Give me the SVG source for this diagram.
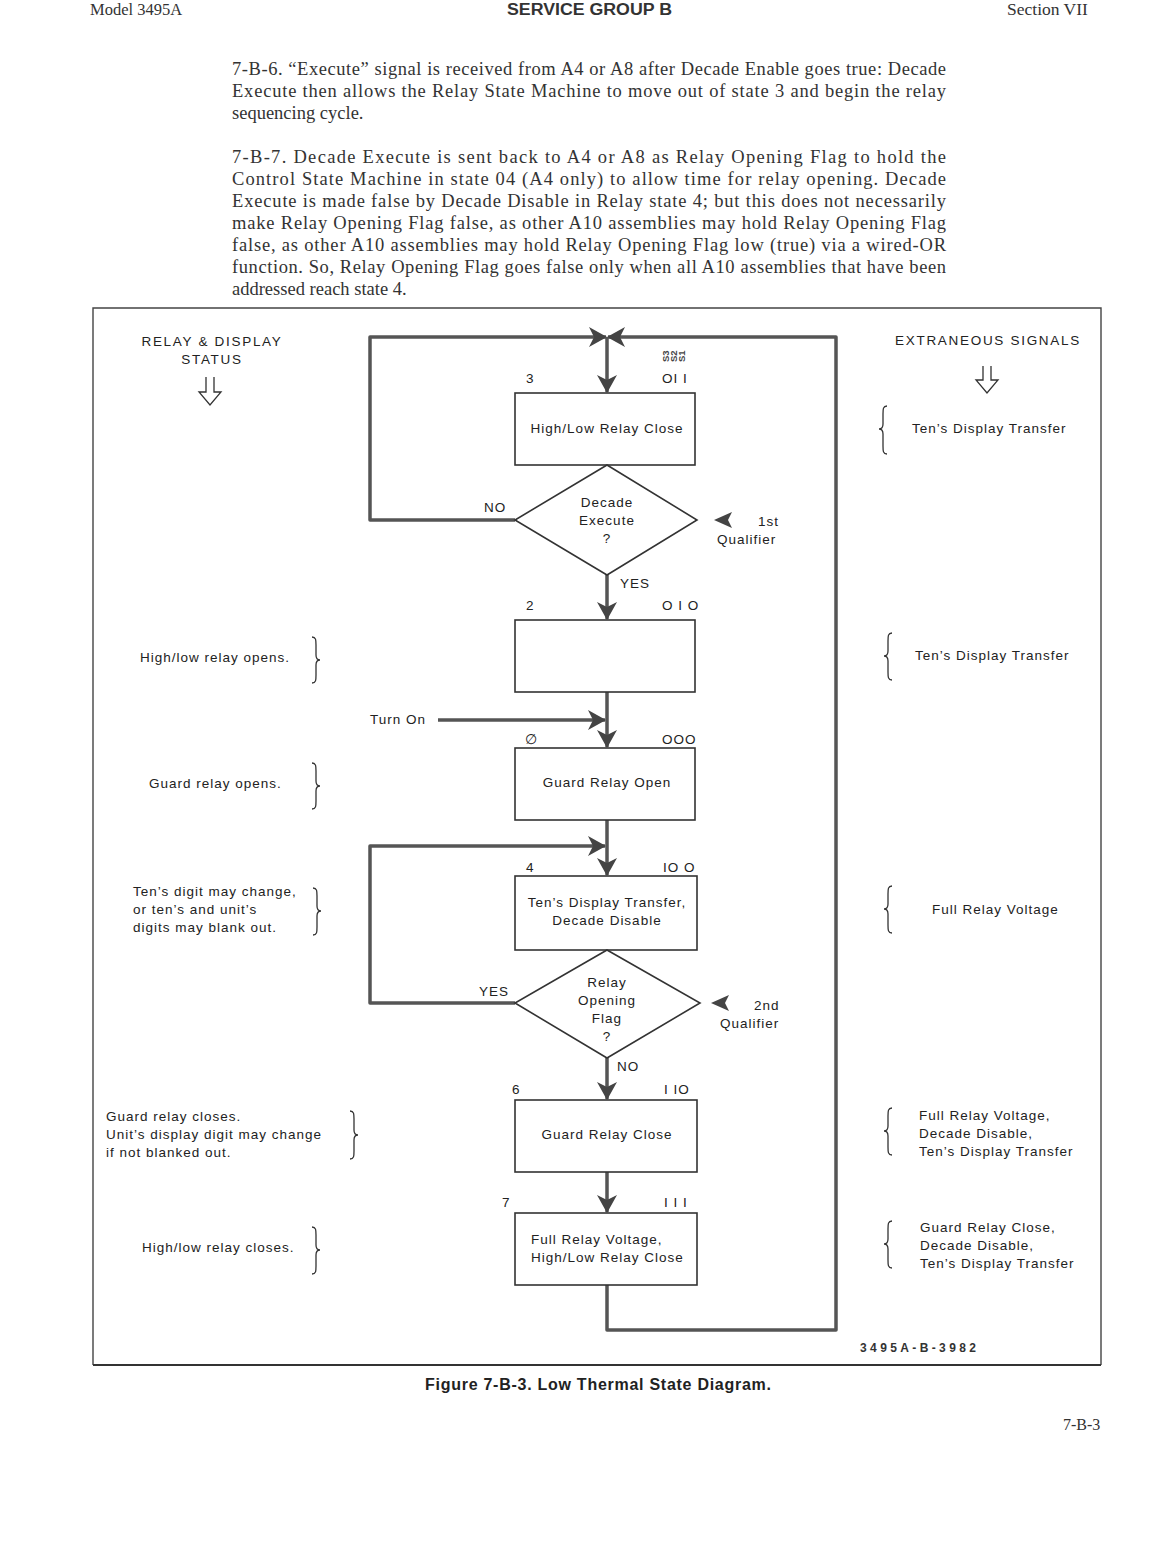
<svg xmlns="http://www.w3.org/2000/svg" width="1176" height="1544" viewBox="0 0 1176 1544">
<style>
.ser{font-family:"Liberation Serif","Times New Roman",serif;font-size:18.5px;fill:#333}
.t{font-family:"Liberation Sans",Arial,sans-serif;font-size:13.5px;letter-spacing:1px;fill:#222}
.h{font-family:"Liberation Sans",Arial,sans-serif;font-size:13.5px;letter-spacing:1.7px;fill:#222}
.m{text-anchor:middle}
.box{fill:none;stroke:#333;stroke-width:1.6}
.flow{fill:none;stroke:#555;stroke-width:3.5;stroke-linejoin:round}
.br{fill:none;stroke:#333;stroke-width:1.3}
.frame{fill:none;stroke:#444;stroke-width:1.4}
.bit{font-family:"Liberation Sans",Arial,sans-serif;font-size:9.5px;font-weight:bold;fill:#444}
</style>
<defs>
<marker id="ah" markerUnits="userSpaceOnUse" markerWidth="20" markerHeight="22" refX="17" refY="10" orient="auto">
<path d="M0,0 L18,10 L0,20 L5,10 Z" fill="#444"/>
</marker>
</defs>

<!-- page header -->
<text x="90" y="15" class="ser" style="font-size:16.5px">Model 3495A</text>
<text x="507" y="15" style="font-family:'Liberation Sans',Arial,sans-serif;font-size:16px;font-weight:bold;fill:#333" textLength="165" lengthAdjust="spacingAndGlyphs">SERVICE GROUP B</text>
<text x="1007" y="15" class="ser" style="font-size:17.5px">Section VII</text>

<!-- paragraphs -->
<g id="paragraphs">
<text x="232" y="75" class="ser" textLength="714">7-B-6. “Execute” signal is received from A4 or A8 after Decade Enable goes true: Decade</text>
<text x="232" y="97" class="ser" textLength="714">Execute then allows the Relay State Machine to move out of state 3 and begin the relay</text>
<text x="232" y="119" class="ser">sequencing cycle.</text>
<text x="232" y="163" class="ser" textLength="714">7-B-7. Decade Execute is sent back to A4 or A8 as Relay Opening Flag to hold the</text>
<text x="232" y="185" class="ser" textLength="714">Control State Machine in state 04 (A4 only) to allow time for relay opening. Decade</text>
<text x="232" y="207" class="ser" textLength="714">Execute is made false by Decade Disable in Relay state 4; but this does not necessarily</text>
<text x="232" y="229" class="ser" textLength="714">make Relay Opening Flag false, as other A10 assemblies may hold Relay Opening Flag</text>
<text x="232" y="251" class="ser" textLength="714">false, as other A10 assemblies may hold Relay Opening Flag low (true) via a wired-OR</text>
<text x="232" y="273" class="ser" textLength="714">function. So, Relay Opening Flag goes false only when all A10 assemblies that have been</text>
<text x="232" y="295" class="ser">addressed reach state 4.</text>
</g>

<!-- frame -->
<path class="frame" d="M93,1365 V308 H1101 V1365"/>
<line x1="93" y1="1365" x2="1101" y2="1365" stroke="#333" stroke-width="2"/>

<!-- connectors -->
<g id="connectors">
<path class="flow" d="M515,520 H370 V337 H606" marker-end="url(#ah)"/>
<path class="flow" d="M607,1285 V1330 H836 V337 H608" marker-end="url(#ah)"/>
<path class="flow" d="M607,337 V392" marker-end="url(#ah)"/>
<path class="flow" d="M607,575 V619" marker-end="url(#ah)"/>
<path class="flow" d="M607,692 V747" marker-end="url(#ah)"/>
<path class="flow" d="M438,720 H605" marker-end="url(#ah)"/>
<path class="flow" d="M607,820 V875" marker-end="url(#ah)"/>
<path class="flow" d="M515,1003 H370 V846 H605" marker-end="url(#ah)"/>
<path class="flow" d="M607,1058 V1099" marker-end="url(#ah)"/>
<path class="flow" d="M607,1172 V1212" marker-end="url(#ah)"/>
<!-- qualifier arrows -->
<path d="M714,520 L732,512 L728,520 L732,528 Z" fill="#444"/>
<path d="M711,1003 L729,995 L725,1003 L729,1011 Z" fill="#444"/>
</g>

<!-- column headers -->
<g id="relay-status-header">
<text x="212" y="346" class="h m">RELAY &amp; DISPLAY</text>
<text x="212" y="364" class="h m">STATUS</text>
<path class="br" d="M206,377 V392 H199 L210,405 L221,392 H214 V377"/>
</g>
<g id="extraneous-header">
<text x="988" y="345" class="h m">EXTRANEOUS SIGNALS</text>
<path class="br" d="M983,366 V380 H976 L987,393 L998,380 H991 V366"/>
</g>

<!-- bit column labels -->
<g id="bit-labels">
<text class="bit" transform="translate(669,362) rotate(-90)">S3</text>
<text class="bit" transform="translate(677,362) rotate(-90)">S2</text>
<text class="bit" transform="translate(685,362) rotate(-90)">S1</text>
</g>

<!-- state 3 -->
<g id="state3">
<text x="526" y="383" class="t">3</text>
<text x="662" y="383" class="t">OI I</text>
<rect x="515" y="393" width="180" height="72" class="box"/>
<text x="607" y="433" class="t m">High/Low Relay Close</text>
</g>

<!-- decision 1 -->
<g id="decade-execute">
<polygon points="607,465 697,520 607,575 515,520" class="box"/>
<text x="607" y="507" class="t m">Decade</text>
<text x="607" y="525" class="t m">Execute</text>
<text x="607" y="543" class="t m">?</text>
<text x="484" y="512" class="t">NO</text>
<text x="620" y="588" class="t">YES</text>
</g>
<g id="qualifier1">
<text x="758" y="526" class="t">1st</text>
<text x="717" y="544" class="t">Qualifier</text>
</g>

<!-- state 2 -->
<g id="state2">
<text x="526" y="610" class="t">2</text>
<text x="662" y="610" class="t">O I O</text>
<rect x="515" y="620" width="180" height="72" class="box"/>
</g>

<g id="turn-on">
<text x="370" y="724" class="t">Turn On</text>
</g>

<!-- state 0 -->
<g id="state0">
<text x="525" y="744" class="t">∅</text>
<text x="662" y="744" class="t">OOO</text>
<rect x="515" y="748" width="180" height="72" class="box"/>
<text x="607" y="787" class="t m">Guard Relay Open</text>
</g>

<!-- state 4 -->
<g id="state4">
<text x="526" y="872" class="t">4</text>
<text x="663" y="872" class="t">IO O</text>
<rect x="515" y="876" width="182" height="74" class="box"/>
<text x="607" y="907" class="t m">Ten’s Display Transfer,</text>
<text x="607" y="925" class="t m">Decade Disable</text>
</g>

<!-- decision 2 -->
<g id="relay-opening-flag">
<polygon points="607,950 700,1003 607,1058 515,1003" class="box"/>
<text x="607" y="987" class="t m">Relay</text>
<text x="607" y="1005" class="t m">Opening</text>
<text x="607" y="1023" class="t m">Flag</text>
<text x="607" y="1041" class="t m">?</text>
<text x="479" y="996" class="t">YES</text>
<text x="617" y="1071" class="t">NO</text>
</g>
<g id="qualifier2">
<text x="754" y="1010" class="t">2nd</text>
<text x="720" y="1028" class="t">Qualifier</text>
</g>

<!-- state 6 -->
<g id="state6">
<text x="512" y="1094" class="t">6</text>
<text x="664" y="1094" class="t">I IO</text>
<rect x="515" y="1100" width="182" height="72" class="box"/>
<text x="607" y="1139" class="t m">Guard Relay Close</text>
</g>

<!-- state 7 -->
<g id="state7">
<text x="502" y="1207" class="t">7</text>
<text x="664" y="1207" class="t">I I I</text>
<rect x="515" y="1213" width="182" height="72" class="box"/>
<text x="531" y="1244" class="t">Full Relay Voltage,</text>
<text x="531" y="1262" class="t">High/Low Relay Close</text>
</g>

<!-- left column notes -->
<g id="note-left-1">
<text x="140" y="662" class="t">High/low relay opens.</text>
<path class="br" d="M312,637 C316,637 316,640 316,645 L316,655 C316,658 317,660 320,660 C317,660 316,662 316,665 L316,675 C316,680 316,683 312,683"/>
</g>
<g id="note-left-2">
<text x="149" y="788" class="t">Guard relay opens.</text>
<path class="br" d="M312,763 C316,763 316,766 316,771 L316,781 C316,784 317,786 320,786 C317,786 316,788 316,791 L316,801 C316,806 316,809 312,809"/>
</g>
<g id="note-left-3">
<text x="133" y="896" class="t">Ten’s digit may change,</text>
<text x="133" y="914" class="t">or ten’s and unit’s</text>
<text x="133" y="932" class="t">digits may blank out.</text>
<path class="br" d="M313,888 C317,888 317,891 317,896 L317,906 C317,909 318,911 321,911 C318,911 317,913 317,916 L317,927 C317,932 317,935 313,935"/>
</g>
<g id="note-left-4">
<text x="106" y="1121" class="t">Guard relay closes.</text>
<text x="106" y="1139" class="t">Unit’s display digit may change</text>
<text x="106" y="1157" class="t">if not blanked out.</text>
<path class="br" d="M350,1111 C354,1111 354,1114 354,1119 L354,1130 C354,1133 355,1135 358,1135 C355,1135 354,1137 354,1140 L354,1151 C354,1156 354,1159 350,1159"/>
</g>
<g id="note-left-5">
<text x="142" y="1252" class="t">High/low relay closes.</text>
<path class="br" d="M312,1227 C316,1227 316,1230 316,1235 L316,1245 C316,1248 317,1250 320,1250 C317,1250 316,1252 316,1255 L316,1266 C316,1271 316,1274 312,1274"/>
</g>

<!-- right column notes -->
<g id="note-right-1">
<path class="br" d="M887,406 C883,406 883,409 883,414 L883,424 C883,427 882,429 879,429 C882,429 883,431 883,434 L883,446 C883,451 883,454 887,454"/>
<text x="912" y="433" class="t">Ten’s Display Transfer</text>
</g>
<g id="note-right-2">
<path class="br" d="M892,633 C888,633 888,636 888,641 L888,651 C888,654 887,656 884,656 C887,656 888,658 888,661 L888,672 C888,677 888,680 892,680"/>
<text x="915" y="660" class="t">Ten’s Display Transfer</text>
</g>
<g id="note-right-3">
<path class="br" d="M892,886 C888,886 888,889 888,894 L888,904 C888,907 887,909 884,909 C887,909 888,911 888,914 L888,925 C888,930 888,933 892,933"/>
<text x="932" y="914" class="t">Full Relay Voltage</text>
</g>
<g id="note-right-4">
<path class="br" d="M892,1108 C888,1108 888,1111 888,1116 L888,1126 C888,1129 887,1131 884,1131 C887,1131 888,1133 888,1136 L888,1147 C888,1152 888,1155 892,1155"/>
<text x="919" y="1120" class="t">Full Relay Voltage,</text>
<text x="919" y="1138" class="t">Decade Disable,</text>
<text x="919" y="1156" class="t">Ten’s Display Transfer</text>
</g>
<g id="note-right-5">
<path class="br" d="M892,1221 C888,1221 888,1224 888,1229 L888,1239 C888,1242 887,1244 884,1244 C887,1244 888,1246 888,1249 L888,1260 C888,1265 888,1268 892,1268"/>
<text x="920" y="1232" class="t">Guard Relay Close,</text>
<text x="920" y="1250" class="t">Decade Disable,</text>
<text x="920" y="1268" class="t">Ten’s Display Transfer</text>
</g>

<text x="860" y="1352" style="font-family:'Liberation Sans',Arial,sans-serif;font-size:12px;font-weight:bold;fill:#333" textLength="116">3495A-B-3982</text>
<text x="425" y="1390" style="font-family:'Liberation Sans',Arial,sans-serif;font-size:16px;font-weight:bold;fill:#222" textLength="346">Figure 7-B-3.  Low Thermal State Diagram.</text>
<text x="1063" y="1430" class="ser" style="font-size:16px">7-B-3</text>
</svg>
